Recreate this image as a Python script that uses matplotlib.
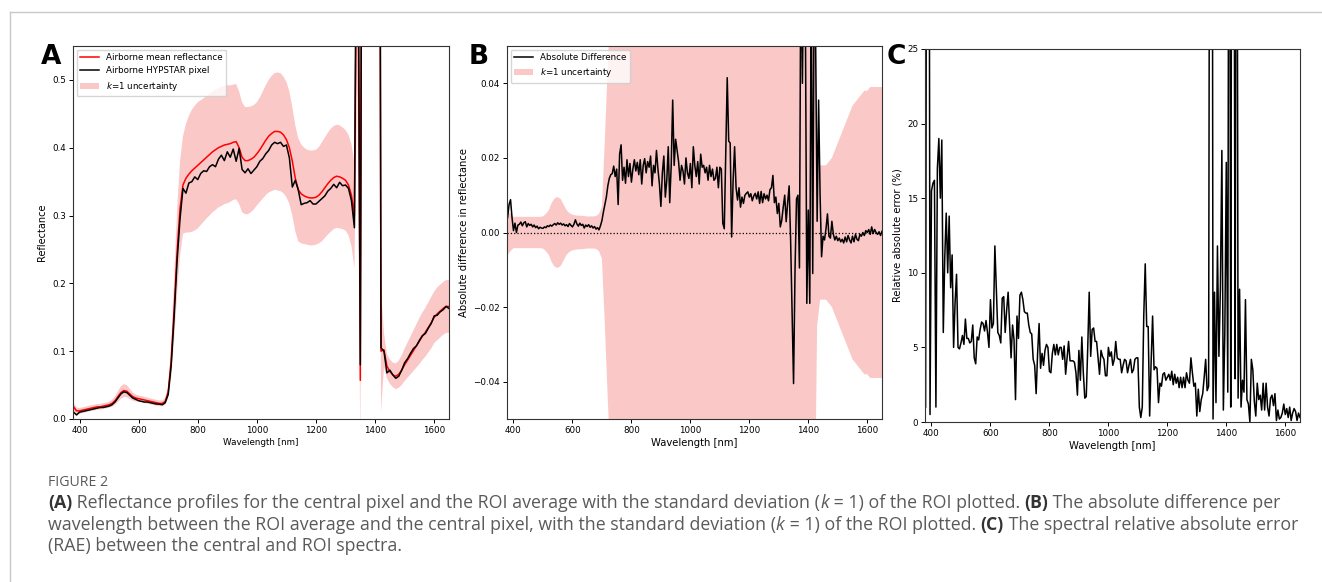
import numpy as np
import matplotlib
matplotlib.use('Agg')
import matplotlib.pyplot as plt
from matplotlib.lines import Line2D

# wavelength sampling (nm)
wl_coarse = np.arange(380, 1651, 10)   # 128 samples
wl_fine = np.arange(380, 1651, 5)      # 255 samples

# panel A - ROI mean reflectance (10 nm)
mean_refl = [
    0.018, 0.012, 0.012, 0.013, 0.014, 0.015, 0.016, 0.017, 0.018, 0.018,
    0.019, 0.020, 0.021, 0.023, 0.027, 0.033, 0.039, 0.042, 0.041, 0.037,
    0.033, 0.031, 0.030, 0.029, 0.028, 0.027, 0.026, 0.025, 0.024, 0.023,
    0.023, 0.026, 0.040, 0.085, 0.160, 0.245, 0.310, 0.345, 0.355, 0.361,
    0.366, 0.370, 0.374, 0.378, 0.382, 0.386, 0.390, 0.394, 0.397, 0.400,
    0.402, 0.404, 0.405, 0.406, 0.408, 0.409, 0.400, 0.386, 0.381, 0.381,
    0.383, 0.386, 0.391, 0.397, 0.404, 0.411, 0.417, 0.421, 0.424, 0.424,
    0.423, 0.419, 0.412, 0.400, 0.380, 0.355, 0.338, 0.332, 0.329, 0.327,
    0.326, 0.326, 0.327, 0.330, 0.335, 0.341, 0.347, 0.352, 0.356, 0.358,
    0.357, 0.355, 0.352, 0.345, 0.330, 0.300, 0.900, 0.057, 1.600, 2.500,
    3.000, 3.200, 3.000, 2.000, 0.100, 0.102, 0.078, 0.070, 0.065, 0.063,
    0.066, 0.072, 0.080, 0.087, 0.094, 0.101, 0.108, 0.115, 0.122, 0.128,
    0.135, 0.142, 0.150, 0.155, 0.159, 0.163, 0.166, 0.166,
]

# panel A - central HYPSTAR pixel (10 nm)
pixel_refl = [
    0.010, 0.006, 0.010, 0.011, 0.012, 0.013, 0.014, 0.015, 0.016, 0.017,
    0.017, 0.018, 0.019, 0.021, 0.025, 0.031, 0.037, 0.040, 0.039, 0.035,
    0.031, 0.029, 0.027, 0.026, 0.025, 0.025, 0.024, 0.023, 0.022, 0.022,
    0.021, 0.024, 0.036, 0.078, 0.150, 0.232, 0.295, 0.340, 0.333, 0.348,
    0.350, 0.357, 0.353, 0.362, 0.366, 0.365, 0.372, 0.375, 0.372, 0.383,
    0.389, 0.381, 0.394, 0.386, 0.398, 0.380, 0.399, 0.368, 0.363, 0.369,
    0.362, 0.367, 0.372, 0.380, 0.384, 0.391, 0.396, 0.404, 0.408, 0.406,
    0.408, 0.402, 0.404, 0.385, 0.342, 0.352, 0.338, 0.316, 0.318, 0.319,
    0.322, 0.317, 0.317, 0.321, 0.325, 0.329, 0.336, 0.340, 0.346, 0.341,
    0.349, 0.344, 0.345, 0.340, 0.322, 0.282, 0.950, 0.080, 1.700, 2.600,
    3.100, 3.300, 3.100, 2.100, 0.105, 0.100, 0.068, 0.072, 0.065, 0.060,
    0.063, 0.072, 0.083, 0.089, 0.097, 0.104, 0.108, 0.116, 0.123, 0.126,
    0.134, 0.141, 0.152, 0.153, 0.158, 0.161, 0.166, 0.163,
]

# ROI standard deviation, k=1 (10 nm)
std_refl = [
    0.006, 0.005, 0.0042, 0.0042, 0.0042, 0.0042, 0.0042, 0.0042, 0.0042, 0.0042,
    0.0042, 0.0042, 0.0043, 0.005, 0.006, 0.008, 0.0092, 0.0095, 0.009, 0.0075,
    0.006, 0.0052, 0.0048, 0.0046, 0.0045, 0.0045, 0.0044, 0.0043, 0.0043, 0.0043,
    0.0044, 0.005, 0.007, 0.025, 0.045, 0.062, 0.070, 0.072, 0.080, 0.086,
    0.090, 0.092, 0.093, 0.092, 0.091, 0.090, 0.090, 0.089, 0.089, 0.088,
    0.088, 0.087, 0.087, 0.086, 0.085, 0.085, 0.083, 0.081, 0.079, 0.079,
    0.078, 0.077, 0.076, 0.077, 0.079, 0.081, 0.083, 0.085, 0.086, 0.087,
    0.087, 0.086, 0.085, 0.083, 0.080, 0.078, 0.076, 0.073, 0.071, 0.070,
    0.070, 0.070, 0.070, 0.071, 0.073, 0.074, 0.075, 0.076, 0.076, 0.076,
    0.076, 0.075, 0.074, 0.074, 0.075, 0.078, 0.400, 0.100, 0.500, 0.800,
    1.000, 1.000, 1.000, 0.800, 0.090, 0.025, 0.018, 0.018, 0.018, 0.019,
    0.020, 0.022, 0.024, 0.026, 0.028, 0.030, 0.032, 0.034, 0.035, 0.036,
    0.037, 0.038, 0.038, 0.039, 0.039, 0.039, 0.039, 0.039,
]

# panel B - absolute difference, in units of 1e-3 reflectance (5 nm)
abs_diff_e3 = [
    4.0, 7.5, 8.8, 4.0, 0.5, 2.5, 0.0, 2.0, 2.2, 2.8,
    1.8, 2.6, 2.9, 1.5, 2.4, 1.9, 2.2, 1.5, 2.0, 1.3,
    1.7, 1.0, 1.4, 1.2, 1.1, 1.5, 1.3, 1.8, 1.6, 2.0,
    1.7, 2.1, 2.4, 2.0, 2.6, 2.2, 2.5, 2.0, 2.3, 1.8,
    2.1, 1.6, 2.4, 1.9, 1.5, 2.2, 3.4, 2.3, 1.7, 2.5,
    1.9, 2.2, 1.2, 2.0, 1.6, 2.1, 1.4, 1.8, 1.2, 1.6,
    0.9, 1.3, 0.7, 1.8, 3.2, 5.5, 7.5, 9.5, 12.5, 14.5,
    15.5, 15.8, 17.8, 15.0, 17.0, 7.5, 21.0, 23.5, 14.0, 17.5,
    13.2, 19.5, 15.0, 18.5, 13.5, 17.0, 19.5, 16.5, 18.8, 15.5,
    19.5, 13.0, 18.0, 19.8, 16.0, 19.0, 17.5, 20.5, 12.5, 18.0,
    16.0, 22.0, 17.0, 13.0, 7.0, 16.0, 20.5, 9.5, 14.0, 23.0,
    8.0, 18.0, 35.5, 18.0, 25.0, 22.0, 19.0, 14.0, 18.0, 16.5,
    13.0, 20.0, 16.0, 14.5, 18.5, 12.0, 23.0, 18.0, 15.0, 19.0,
    13.0, 21.0, 17.5, 18.0, 16.0, 17.5, 14.0, 18.0, 15.0, 17.0,
    14.0, 14.5, 17.5, 12.0, 17.5, 17.0, 2.5, 1.0, 22.0, 41.5,
    24.5, 24.0, -1.2, 14.0, 23.0, 12.0, 8.7, 12.0, 6.8, 9.5,
    7.8, 10.0, 10.5, 10.9, 9.5, 10.4, 8.5, 9.8, 10.5, 9.0,
    10.9, 7.8, 11.0, 8.0, 10.4, 9.0, 10.0, 8.5, 11.5, 12.0,
    15.3, 8.0, 9.5, 5.1, 7.8, 1.5, 3.3, 6.8, 10.0, 2.9,
    8.0, 12.5, -2.0, -22.0, -40.5, -10.0, 9.0, 10.0, -9.5, 80.0,
    40.0, 80.0, 60.0, -19.0, 6.0, -19.0, 70.0, -11.0, 70.0, 50.0,
    3.0, 35.5, 10.0, -6.5, -1.0, -2.0, 1.0, 5.0, -1.0, -1.5,
    3.0, -0.5, -2.0, -1.0, -2.2, -1.5, -2.5, -1.8, -2.8, -1.2,
    -2.5, -0.8, -2.0, -2.8, -1.0, -2.5, -0.5, -1.8, -2.2, -0.5,
    -1.0, 0.0, -0.8, 0.5, 0.0, 0.8, -0.5, 1.5, -0.3, 0.8,
    0.0, -0.5, 0.2, -0.8, 0.3,
]

# panel C - relative absolute error in % (5 nm)
rae_pct = [
    1.0, 60.0, 70.0, 0.5, 15.5, 16.0, 16.2, 1.0, 17.0, 19.0,
    15.0, 18.9, 6.0, 11.0, 14.0, 10.0, 13.8, 9.0, 11.2, 5.0,
    8.0, 9.9, 5.0, 4.9, 5.3, 5.8, 5.2, 6.9, 5.6, 5.6,
    5.3, 5.4, 6.5, 4.3, 3.9, 5.7, 5.5, 6.2, 6.7, 6.6,
    6.1, 6.8, 6.0, 5.0, 8.2, 6.3, 6.6, 11.8, 9.0, 6.0,
    5.8, 5.3, 8.3, 8.4, 6.0, 7.5, 8.7, 6.5, 4.3, 6.5,
    5.5, 1.5, 7.1, 5.6, 8.5, 8.7, 8.2, 7.4, 7.3, 7.3,
    6.5, 6.0, 5.9, 4.2, 3.8, 1.9, 4.6, 6.6, 3.6, 4.6,
    3.8, 4.8, 5.2, 5.0, 3.4, 3.3, 4.6, 5.2, 4.5, 5.2,
    4.5, 5.0, 5.0, 4.2, 5.1, 3.2, 4.3, 5.4, 4.1, 4.1,
    4.1, 4.0, 3.3, 1.8, 4.8, 2.8, 5.7, 3.3, 1.6, 1.7,
    5.0, 8.7, 4.4, 6.2, 6.3, 5.4, 5.4, 4.3, 3.2, 4.8,
    4.4, 4.2, 3.1, 3.1, 5.0, 4.4, 4.7, 3.8, 4.2, 5.4,
    4.3, 4.2, 4.2, 3.3, 3.8, 4.2, 4.1, 3.3, 3.8, 4.2,
    3.3, 3.5, 4.2, 4.3, 4.3, 1.0, 0.3, 1.0, 7.1, 10.6,
    6.4, 6.4, 0.4, 4.0, 7.1, 3.5, 3.7, 3.6, 1.3, 2.6,
    2.4, 3.2, 3.3, 2.8, 3.0, 3.2, 2.8, 3.4, 2.5, 3.2,
    2.6, 3.0, 2.3, 3.0, 2.3, 3.0, 2.3, 3.3, 2.8, 2.6,
    4.3, 3.3, 2.4, 2.6, 0.4, 2.2, 0.7, 1.5, 1.9, 3.0,
    4.2, 2.1, 2.4, 60.0, 80.0, 0.2, 8.7, 1.3, 11.8, 4.4,
    9.0, 18.2, 0.8, 6.0, 17.4, 2.0, 60.0, 1.0, 60.0, 50.0,
    2.9, 60.0, 1.6, 8.9, 1.0, 2.8, 2.0, 8.2, 1.5, 1.2,
    0.0, 4.2, 3.5, 1.4, 0.4, 2.6, 1.5, 1.8, 0.8, 2.6,
    0.8, 2.6, 1.0, 0.4, 1.6, 1.8, 1.1, 1.9, 0.1, 0.8,
    0.2, 0.3, 0.6, 1.2, 0.5, 0.9, 0.3, 1.0, 0.1, 0.6,
    0.9, 0.7, 0.1, 0.6, 0.3,
]

mean_refl = np.array(mean_refl)
pixel_refl = np.array(pixel_refl)
std_refl = np.array(std_refl)
abs_diff = np.array(abs_diff_e3) * 1e-3
rae_pct = np.array(rae_pct)
assert len(mean_refl) == len(pixel_refl) == len(std_refl) == len(wl_coarse)
assert len(abs_diff) == len(rae_pct) == len(wl_fine)

PINK = '#fbc8c8'
W, H = 1322, 582

fig = plt.figure(figsize=(W / 100, H / 100), dpi=100)

def px_axes(left, top, right, bottom):
    return fig.add_axes([left / W, 1 - bottom / H, (right - left) / W, (bottom - top) / H])

axA = px_axes(73, 46, 449, 419)
axB = px_axes(507, 46, 882, 419)
axC = px_axes(925, 49, 1300, 422)

for ax in (axA, axB, axC):
    ax.set_xlim(378, 1650)
    ax.set_xticks(range(400, 1601, 200))
    ax.tick_params(labelsize=6.3, length=3, width=0.7, pad=2)
    for s in ax.spines.values():
        s.set_linewidth(0.8)
        s.set_color('#333333')

# A
bandA = axA.fill_between(wl_coarse, mean_refl - std_refl, mean_refl + std_refl,
                         color=PINK, lw=0, label='$k$=1 uncertainty')
lm, = axA.plot(wl_coarse, mean_refl, color='red', lw=1.1, label='Airborne mean reflectance')
lp, = axA.plot(wl_coarse, pixel_refl, color='black', lw=1.1, label='Airborne HYPSTAR pixel')
axA.set_ylim(0, 0.55)
axA.set_yticks([0.0, 0.1, 0.2, 0.3, 0.4, 0.5])
axA.set_xlabel('Wavelength [nm]', fontsize=6.3, labelpad=2)
axA.set_ylabel('Reflectance', fontsize=7, labelpad=4)
axA.legend(handles=[lm, lp, bandA], loc='upper left', fontsize=6.3,
           handlelength=2.2, borderaxespad=0.4)

# B
bandB = axB.fill_between(wl_coarse, -std_refl, std_refl, color=PINK, lw=0,
                         label='$k$=1 uncertainty')
ld, = axB.plot(wl_fine, abs_diff, color='black', lw=1.1, label='Absolute Difference')
axB.axhline(0, color='black', ls=':', lw=0.9)
axB.set_ylim(-0.05, 0.05)
axB.set_yticks([-0.04, -0.02, 0.0, 0.02, 0.04])
axB.set_xlabel('Wavelength [nm]', fontsize=7.2, labelpad=2)
axB.set_ylabel('Absolute difference in reflectance', fontsize=7.2, labelpad=3)
axB.legend(handles=[ld, bandB], loc='upper left', fontsize=6.3,
           handlelength=2.2, borderaxespad=0.4)

# C
axC.plot(wl_fine, rae_pct, color='black', lw=1.1)
axC.set_ylim(0, 25)
axC.set_yticks([0, 5, 10, 15, 20, 25])
axC.set_xlabel('Wavelength [nm]', fontsize=7.2, labelpad=2)
axC.set_ylabel('Relative absolute error (%)', fontsize=7.2, labelpad=3)

# panel letters
for letter, x in (('A', 41), ('B', 469), ('C', 887)):
    fig.text(x / W, 1 - 57 / H, letter, fontsize=19, fontweight='bold',
             family='DejaVu Sans', va='center', ha='left')

# page frame lines
fig.add_artist(Line2D([9.5 / W, 1], [1 - 12 / H, 1 - 12 / H], transform=fig.transFigure,
                      color='#c8c8c8', lw=1))
fig.add_artist(Line2D([9.5 / W, 9.5 / W], [0, 1 - 12 / H], transform=fig.transFigure,
                      color='#c8c8c8', lw=1))

# caption
CAP_FONT = ['Open Sans', 'DejaVu Sans']
GREY = '#5a5a5a'
DARK = '#333333'
renderer = fig.canvas.get_renderer()

def text_width(s, size, weight='normal', style='normal'):
    t = fig.text(0, 0, s + 'x', fontsize=size, fontweight=weight, fontstyle=style, family=CAP_FONT)
    t2 = fig.text(0, 0, 'x', fontsize=size, fontweight=weight, fontstyle=style, family=CAP_FONT)
    w = t.get_window_extent(renderer).width - t2.get_window_extent(renderer).width
    t.remove()
    t2.remove()
    return w

def rich_line(x, y, pieces, size):
    for s, weight, style, col in pieces:
        fig.text(x / W, 1 - y / H, s, fontsize=size, fontweight=weight, fontstyle=style,
                 color=col, family=CAP_FONT, va='baseline', ha='left')
        x += text_width(s, size, weight, style)

line1 = [('(A)', 'bold', 'normal', DARK),
         (' Reflectance profiles for the central pixel and the ROI average with the standard deviation (', 'normal', 'normal', GREY),
         ('k', 'normal', 'italic', GREY),
         (' = 1) of the ROI plotted. ', 'normal', 'normal', GREY),
         ('(B)', 'bold', 'normal', DARK),
         (' The absolute difference per', 'normal', 'normal', GREY)]
line2 = [('wavelength between the ROI average and the central pixel, with the standard deviation (', 'normal', 'normal', GREY),
         ('k', 'normal', 'italic', GREY),
         (' = 1) of the ROI plotted. ', 'normal', 'normal', GREY),
         ('(C)', 'bold', 'normal', DARK),
         (' The spectral relative absolute error', 'normal', 'normal', GREY)]
line3 = [('(RAE) between the central and ROI spectra.', 'normal', 'normal', GREY)]

# fit caption size so that the widest line ends near the right edge of the text block
w12 = max(sum(text_width(s, 12, wt, st) for s, wt, st, _ in ln) for ln in (line1, line2))
cap_size = 12 * (1290 - 48) / w12

fig.text(48 / W, 1 - 486 / H, 'FIGURE 2', fontsize=cap_size * 0.8, color=GREY,
         family=CAP_FONT, va='baseline', ha='left')
rich_line(48, 508, line1, cap_size)
rich_line(48, 530, line2, cap_size)
rich_line(48, 551, line3, cap_size)

fig.savefig('out.png', dpi=100)
